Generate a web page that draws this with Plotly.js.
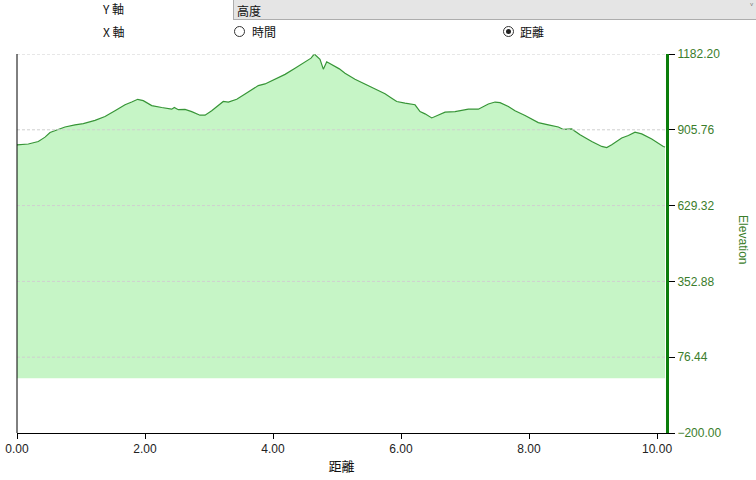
<!DOCTYPE html>
<html>
<head>
<meta charset="utf-8">
<script src="https://cdn.plot.ly/plotly-3.0.1.min.js"></script>
<style>
  html, body { margin:0; padding:0; background:#fff; width:756px; height:480px; overflow:hidden; }
  #chart { position:absolute; left:0; top:0; width:756px; height:480px; }
  .ui { position:absolute; font-family:"Noto Sans CJK TC","Noto Sans",sans-serif; font-size:12px; color:#111; line-height:14px; white-space:nowrap; }
  #dropdown { position:absolute; left:233px; top:-1px; width:530px; height:21px; background:#e5e5e5; border:1px solid #adadad; box-sizing:border-box; }
  .radio { position:absolute; width:11px; height:11px; border:1px solid #333; border-radius:50%; box-sizing:border-box; background:#fff; }
  .dot { position:absolute; left:2px; top:2px; width:5px; height:5px; border-radius:50%; background:#222; }
</style>
</head>
<body>
<div id="chart"></div>
<div id="dropdown"></div>
<div class="ui" style="left:103px;top:2px;">Y 軸</div>
<div class="ui" style="left:237px;top:4px;">高度</div>
<div class="ui" style="left:750px;top:1px;color:#555;">˅</div>
<div class="ui" style="left:103px;top:25px;">X 軸</div>
<div class="radio" style="left:234px;top:26px;"></div>
<div class="ui" style="left:252px;top:25px;">時間</div>
<div class="radio" style="left:503px;top:26px;"><div class="dot"></div></div>
<div class="ui" style="left:520px;top:25px;">距離</div>
<script>
// distance (km)
const distance = [0, 0.177, 0.333, 0.438, 0.516, 0.645, 0.75, 0.906, 1.036, 1.219, 1.375, 1.531, 1.688, 1.792, 1.886, 1.973,
  2.105, 2.261, 2.417, 2.458, 2.52, 2.625, 2.73, 2.859, 2.938, 3.042, 3.145, 3.223, 3.302, 3.433, 3.563, 3.77, 3.875,
  4.031, 4.188, 4.344, 4.5, 4.594, 4.645, 4.734, 4.786, 4.839, 5.036, 5.125, 5.281, 5.438, 5.594, 5.75, 5.855, 5.933,
  6.063, 6.219, 6.297, 6.375, 6.48, 6.583, 6.688, 6.844, 6.973, 7.052, 7.208, 7.364, 7.469, 7.547, 7.677, 7.781, 7.938,
  8.145, 8.302, 8.458, 8.536, 8.667, 8.797, 8.98, 9.136, 9.214, 9.292, 9.448, 9.552, 9.656, 9.761, 9.917, 10.098, 10.125];
// elevation (m)
const elevation = [851, 854, 863, 879, 896, 906, 916, 924, 928, 940, 954, 975, 997, 1007, 1017, 1012,
  994, 987, 981, 987, 979, 980, 972, 959, 959, 975, 993, 1009, 1007, 1017, 1036, 1067, 1073,
  1091, 1108, 1130, 1152, 1167, 1182, 1163, 1127, 1154, 1128, 1112, 1090, 1072, 1054, 1037, 1021, 1009,
  1003, 997, 972, 964, 949, 959, 970, 972, 976, 981, 981, 1000, 1007, 1005, 991, 975, 958,
  932, 924, 916, 907, 909, 888, 863, 845, 841, 851, 876, 885, 897, 891, 872, 845, 843];
const yTicks = [-200.00, 76.44, 352.88, 629.32, 905.76, 1182.20];
const xTicks = [0, 2, 4, 6, 8, 10];

const numFont = "Liberation Sans, Arial, sans-serif";
const cjkFont = "Noto Sans CJK TC, sans-serif";

const trace = {
  x: distance, y: elevation, type: 'scatter', mode: 'lines',
  fill: 'tozeroy', fillcolor: '#c6f5c6',
  line: { color: '#379537', width: 1.2 },
  hoverinfo: 'skip', showlegend: false
};

// dashed grid lines drawn above the filled area (as in the reference)
const gridShapes = yTicks.slice(1).map(v => ({
  type: 'line', xref: 'paper', yref: 'y', x0: 0, x1: 1, y0: v, y1: v,
  layer: 'above', line: { color: '#cfcfcf', width: 1, dash: '3px,2px' }
}));

const layout = {
  width: 756, height: 480,
  margin: { l: 17, r: 90, t: 54, b: 47 },
  paper_bgcolor: '#ffffff', plot_bgcolor: '#ffffff',
  showlegend: false,
  xaxis: {
    range: [0, 10.14], tickvals: xTicks, tickformat: '.2f',
    showline: true, linecolor: '#000', linewidth: 1,
    ticks: 'outside', ticklen: 5, tickcolor: '#000',
    showgrid: false, zeroline: false, fixedrange: true,
    tickfont: { family: numFont, size: 12, color: '#222' },
    title: { text: '距離', font: { family: cjkFont, size: 13, color: '#111' }, standoff: 6 }
  },
  yaxis: {
    side: 'right', range: [-200, 1182.2], tickvals: yTicks, tickformat: '.2f',
    showline: true, linecolor: '#0b7d0b', linewidth: 3,
    ticks: 'outside', ticklen: 6, tickcolor: '#000',
    showgrid: false,
    zeroline: false, fixedrange: true,
    tickfont: { family: numFont, size: 12, color: '#3b7d2b' }
  },
  shapes: gridShapes.concat([
    { type: 'line', xref: 'paper', yref: 'paper', x0: 0, x1: 0, y0: 0, y1: 1, line: { color: '#000', width: 1 } }
  ]),
  annotations: [
    { text: 'Elevation', xref: 'paper', yref: 'paper', x: 1.1186, y: 0.509, showarrow: false,
      textangle: 90, font: { family: numFont, size: 12, color: '#3b7d2b' }, xanchor: 'center', yanchor: 'middle' }
  ]
};

Plotly.newPlot('chart', [trace], layout, { staticPlot: true, displayModeBar: false });
</script>
</body>
</html>
